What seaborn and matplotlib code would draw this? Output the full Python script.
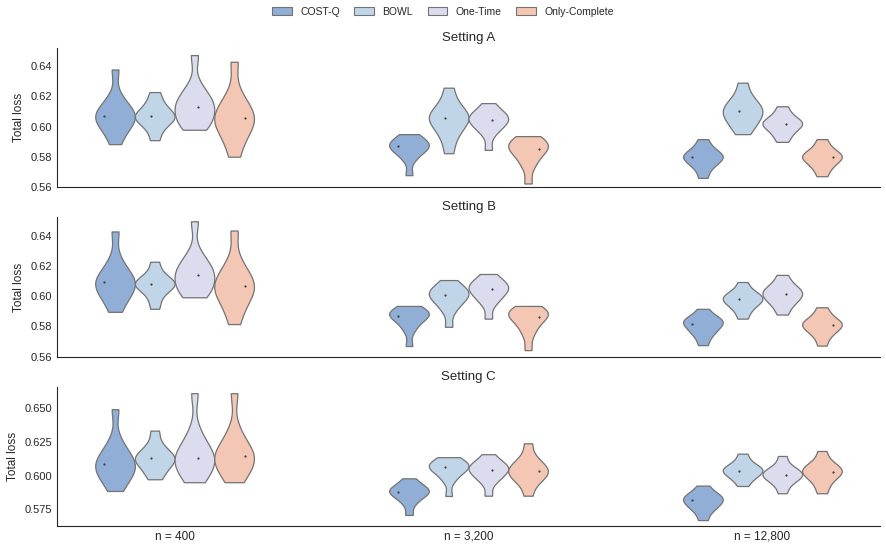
import pandas as pd
import seaborn as sns
import matplotlib.pyplot as plt
from matplotlib.patches import Patch

sns.set_style('white')
plt.rcParams['font.family'] = ['Liberation Sans', 'DejaVu Sans']

# Methods, colours and sample sizes
methods = ['COST-Q', 'BOWL', 'One-Time', 'Only-Complete']
colors = ['#90aed6', '#c0d6e8', '#dcdcef', '#f4c6b4']
n_labels = ['n = 400', 'n = 3,200', 'n = 12,800']
settings = ['Setting A', 'Setting B', 'Setting C']

# Loss samples: one list per n (400, 3200, 12800)
A_COSTQ = [[0.5885, 0.596, 0.600, 0.603, 0.605, 0.607, 0.609, 0.611, 0.614, 0.620, 0.6378],
           [0.568, 0.578, 0.582, 0.584, 0.586, 0.5871, 0.588, 0.589, 0.591, 0.593, 0.5951],
           [0.5662, 0.572, 0.575, 0.577, 0.579, 0.580, 0.581, 0.582, 0.584, 0.587, 0.5918]]
A_BOWL = [[0.5911, 0.598, 0.602, 0.604, 0.606, 0.607, 0.608, 0.610, 0.613, 0.617, 0.6229],
          [0.5825, 0.592, 0.597, 0.601, 0.604, 0.6055, 0.607, 0.609, 0.612, 0.617, 0.6258],
          [0.5951, 0.600, 0.603, 0.606, 0.608, 0.6102, 0.612, 0.614, 0.617, 0.621, 0.6291]]
A_ONCE = [[0.598, 0.601, 0.604, 0.607, 0.610, 0.6133, 0.615, 0.618, 0.621, 0.627, 0.6473],
          [0.5847, 0.595, 0.599, 0.601, 0.603, 0.6047, 0.606, 0.607, 0.609, 0.611, 0.6156],
          [0.590, 0.594, 0.597, 0.599, 0.601, 0.6018, 0.603, 0.604, 0.606, 0.609, 0.6135]]
A_ONLY = [[0.5802, 0.590, 0.596, 0.600, 0.603, 0.6055, 0.608, 0.611, 0.615, 0.622, 0.6429],
          [0.5625, 0.573, 0.578, 0.581, 0.584, 0.5855, 0.587, 0.588, 0.590, 0.592, 0.5938],
          [0.5673, 0.572, 0.575, 0.577, 0.579, 0.580, 0.581, 0.582, 0.584, 0.587, 0.5918]]

B_COSTQ = [[0.5896, 0.597, 0.601, 0.604, 0.607, 0.609, 0.611, 0.613, 0.617, 0.624, 0.6427],
           [0.567, 0.577, 0.581, 0.584, 0.586, 0.587, 0.588, 0.589, 0.590, 0.592, 0.5935],
           [0.5676, 0.573, 0.576, 0.578, 0.580, 0.5818, 0.583, 0.584, 0.585, 0.587, 0.5916]]
B_BOWL = [[0.5916, 0.598, 0.603, 0.605, 0.607, 0.6081, 0.609, 0.610, 0.612, 0.616, 0.6227],
          [0.5797, 0.590, 0.594, 0.597, 0.599, 0.6005, 0.602, 0.603, 0.605, 0.607, 0.6106],
          [0.5851, 0.590, 0.593, 0.595, 0.597, 0.5978, 0.599, 0.600, 0.602, 0.604, 0.6093]]
B_ONCE = [[0.5992, 0.602, 0.605, 0.608, 0.611, 0.6142, 0.616, 0.619, 0.622, 0.628, 0.6494],
          [0.5851, 0.595, 0.598, 0.601, 0.603, 0.6045, 0.606, 0.607, 0.609, 0.611, 0.6146],
          [0.5878, 0.593, 0.596, 0.598, 0.600, 0.6012, 0.603, 0.604, 0.606, 0.609, 0.6140]]
B_ONLY = [[0.5815, 0.591, 0.597, 0.601, 0.604, 0.6064, 0.609, 0.612, 0.616, 0.623, 0.6433],
          [0.5643, 0.574, 0.579, 0.582, 0.585, 0.5865, 0.588, 0.589, 0.590, 0.592, 0.5935],
          [0.5673, 0.573, 0.576, 0.578, 0.580, 0.581, 0.582, 0.583, 0.585, 0.588, 0.5926]]

C_COSTQ = [[0.5886, 0.596, 0.600, 0.603, 0.606, 0.6084, 0.611, 0.614, 0.618, 0.626, 0.6493],
           [0.5708, 0.579, 0.583, 0.585, 0.587, 0.5881, 0.589, 0.590, 0.592, 0.594, 0.5980],
           [0.567, 0.573, 0.576, 0.578, 0.580, 0.5817, 0.583, 0.584, 0.586, 0.588, 0.5926]]
C_BOWL = [[0.5973, 0.602, 0.606, 0.609, 0.611, 0.6129, 0.614, 0.616, 0.619, 0.624, 0.6334],
          [0.5849, 0.596, 0.600, 0.603, 0.605, 0.6062, 0.607, 0.608, 0.610, 0.612, 0.6137],
          [0.5923, 0.597, 0.599, 0.601, 0.603, 0.6037, 0.605, 0.606, 0.608, 0.611, 0.6163]]
C_ONCE = [[0.5951, 0.600, 0.604, 0.608, 0.611, 0.6133, 0.616, 0.619, 0.624, 0.633, 0.6612],
          [0.5851, 0.595, 0.598, 0.601, 0.603, 0.6042, 0.606, 0.607, 0.609, 0.611, 0.6159],
          [0.5869, 0.593, 0.596, 0.598, 0.600, 0.6005, 0.602, 0.603, 0.605, 0.608, 0.6146]]
C_ONLY = [[0.5951, 0.601, 0.605, 0.609, 0.612, 0.6146, 0.617, 0.620, 0.625, 0.634, 0.6612],
          [0.5851, 0.594, 0.597, 0.600, 0.602, 0.6035, 0.605, 0.607, 0.610, 0.614, 0.6240],
          [0.5869, 0.593, 0.597, 0.600, 0.602, 0.6027, 0.604, 0.606, 0.608, 0.611, 0.6183]]

setting_data = {
    'Setting A': [A_COSTQ, A_BOWL, A_ONCE, A_ONLY],
    'Setting B': [B_COSTQ, B_BOWL, B_ONCE, B_ONLY],
    'Setting C': [C_COSTQ, C_BOWL, C_ONCE, C_ONLY],
}

# Long table for seaborn
rows = []
for setting, per_method in setting_data.items():
    for method, per_n in zip(methods, per_method):
        for n_lab, values in zip(n_labels, per_n):
            for v in values:
                rows.append({'setting': setting, 'method': method, 'n': n_lab, 'loss': v})
df = pd.DataFrame(rows)

fig, axes = plt.subplots(3, 1, figsize=(8.86, 5.53), dpi=100, sharex=True)
fig.subplots_adjust(left=57 / 886, right=880 / 886, top=1 - 48 / 553,
                    bottom=1 - 526 / 553, hspace=0.216)

for ax, setting in zip(axes, settings):
    sub = df[df['setting'] == setting]
    sns.violinplot(data=sub, x='n', y='loss', hue='method', order=n_labels,
                   hue_order=methods, palette=colors, saturation=1, width=0.54,
                   density_norm='width', cut=0, inner=None, bw_adjust=0.8,
                   linewidth=0.9, linecolor='0.45', legend=False, ax=ax)
    # median marker of each group
    sns.pointplot(data=sub, x='n', y='loss', hue='method', order=n_labels,
                  hue_order=methods, palette=['0.25'] * 4, estimator='median',
                  errorbar=None, dodge=0.48, markers='o', legend=False, ax=ax)
    for line in ax.lines:
        line.set_linestyle('none')
        line.set_markersize(1.6)
        line.set_markeredgewidth(0)
    ax.set_title(setting, fontsize=9.5, pad=5)
    ax.set_ylabel('Total loss', fontsize=8.5)
    ax.set_xlabel('')
    ax.tick_params(labelsize=8, length=0)
    ax.set_xlim(-0.4, 2.4)
    sns.despine(ax=ax)

axes[0].set_ylim(0.56, 0.652)
axes[1].set_ylim(0.56, 0.652)
axes[0].set_yticks([0.56, 0.58, 0.60, 0.62, 0.64])
axes[1].set_yticks([0.56, 0.58, 0.60, 0.62, 0.64])
axes[2].set_ylim(0.5626, 0.666)
axes[2].set_yticks([0.575, 0.600, 0.625, 0.650])
axes[2].tick_params(axis='x', labelsize=8.5)

handles = [Patch(facecolor=c, edgecolor='0.45', linewidth=0.8) for c in colors]
fig.legend(handles, methods, loc='upper center', bbox_to_anchor=(0.5, 1.005),
           ncol=4, frameon=False, fontsize=7.5, handlelength=1.9,
           columnspacing=1.4)

plt.savefig('out.png', dpi=100)
